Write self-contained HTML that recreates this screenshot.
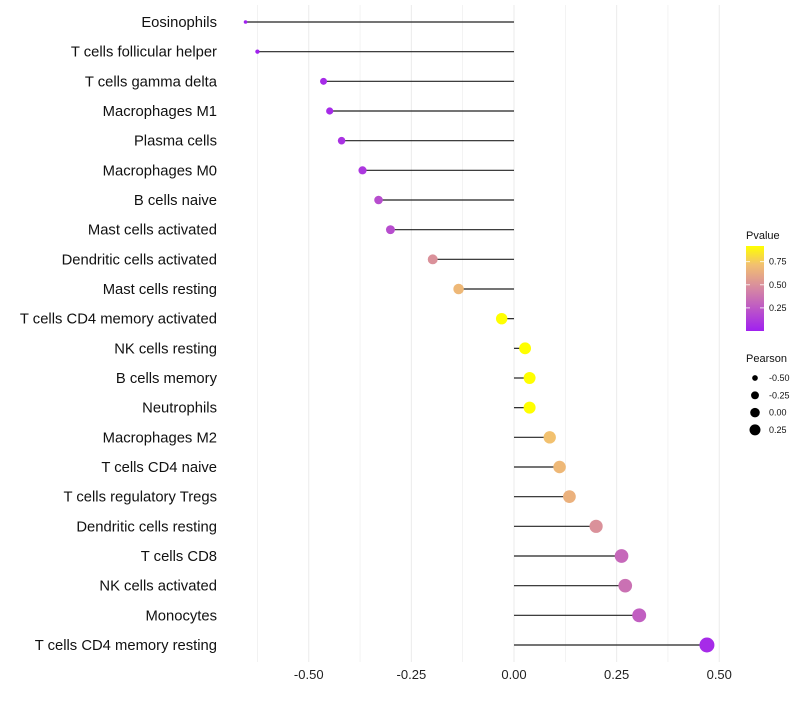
<!DOCTYPE html>
<html><head><meta charset="utf-8"><style>
body{margin:0;background:#fff;font-family:"Liberation Sans",sans-serif}
</style></head><body>
<svg id="chart" width="800" height="700" xmlns="http://www.w3.org/2000/svg" font-family="Liberation Sans, sans-serif"></svg>
<script>
const categories=["Eosinophils","T cells follicular helper","T cells gamma delta","Macrophages M1","Plasma cells","Macrophages M0","B cells naive","Mast cells activated","Dendritic cells activated","Mast cells resting","T cells CD4 memory activated","NK cells resting","B cells memory","Neutrophils","Macrophages M2","T cells CD4 naive","T cells regulatory  Tregs ","Dendritic cells resting","T cells CD8","NK cells activated","Monocytes","T cells CD4 memory resting"];
const pearson=[-0.654,-0.625,-0.464,-0.449,-0.420,-0.369,-0.330,-0.301,-0.198,-0.135,-0.030,0.027,0.038,0.038,0.087,0.111,0.135,0.200,0.262,0.271,0.305,0.470];
const pvalue=[0.002,0.01,0.05,0.05,0.08,0.1,0.2,0.2,0.5,0.68,0.92,0.92,0.92,0.92,0.72,0.68,0.65,0.5,0.32,0.36,0.28,0.05];
const xTicks=[-0.5,-0.25,0,0.25,0.5];
const xTickLabels=["-0.50","-0.25","0.00","0.25","0.50"];
const cbTicks=[0.25,0.5,0.75];
const sizeLegend=[-0.5,-0.25,0,0.25];
const svg=document.getElementById('chart');
const NS='http://www.w3.org/2000/svg';
function mk(t,a,p){const e=document.createElementNS(NS,t);for(const k in a)e.setAttribute(k,a[k]);(p||svg).appendChild(e);return e;}
const x=v=>514+v*410.5;
const y=i=>22+i*(645-22)/(categories.length-1);
const pMin=0,pMax=0.92;
const stops=[[0,[160,32,240]],[0.5,[214,136,162]],[0.78,[242,192,112]],[1,[255,255,0]]];
function col(p){const t=Math.max(0,Math.min(1,(p-pMin)/(pMax-pMin)));let k=0;while(k<stops.length-2&&t>stops[k+1][0])k++;
const [t0,a]=stops[k],[t1,b]=stops[k+1];const f=(t-t0)/(t1-t0);return `rgb(${a.map((c,i)=>Math.round(c+(b[i]-c)*f)).join(',')})`;}
const rMin=1.8,rMax=7.5,vMin=-0.654,vMax=0.47;
const rad=v=>Math.sqrt(rMin*rMin+(v-vMin)/(vMax-vMin)*(rMax*rMax-rMin*rMin));
for(let g=-0.625;g<=0.5001;g+=0.125){const l=mk('line',{x1:x(g),x2:x(g),y1:5,y2:662,stroke:'#ebebeb','stroke-width':Math.abs(g*4-Math.round(g*4))<1e-6?1:0.6});
}
xTicks.forEach((v,i)=>{const t=mk('text',{x:x(v),y:679,'text-anchor':'middle','font-size':13,fill:'#222'});t.textContent=xTickLabels[i];
});
categories.forEach((c,i)=>{
const t=mk('text',{x:217,y:y(i)+5,'text-anchor':'end','font-size':14.8,fill:'#111'});t.textContent=c;

const l=mk('line',{x1:x(0),x2:x(pearson[i]),y1:y(i),y2:y(i),stroke:'#222','stroke-width':1.2});

const d=mk('circle',{cx:x(pearson[i]),cy:y(i),r:rad(pearson[i]),fill:col(pvalue[i])});

});
const lt=mk('text',{x:746,y:239,'font-size':11,fill:'#111'});lt.textContent='Pvalue';

const defs=mk('defs',{});const gr=mk('linearGradient',{id:'cg',x1:0,y1:1,x2:0,y2:0},defs);
stops.forEach(s=>mk('stop',{offset:s[0],'stop-color':`rgb(${s[1].join(',')})`},gr));
const cbTop=246,cbBot=331;const cy=p=>cbBot-(p-pMin)/(pMax-pMin)*(cbBot-cbTop);
const cb=mk('rect',{x:746,y:cbTop,width:18,height:cbBot-cbTop,fill:'url(#cg)'});

cbTicks.forEach(v=>{mk('line',{x1:746,x2:750,y1:cy(v),y2:cy(v),stroke:'#fff','stroke-width':0.8});mk('line',{x1:760,x2:764,y1:cy(v),y2:cy(v),stroke:'#fff','stroke-width':0.8});
const t=mk('text',{x:769,y:cy(v)+3,'font-size':9,fill:'#111'});t.textContent=v.toFixed(2);
});
const st=mk('text',{x:746,y:362,'font-size':11,fill:'#111'});st.textContent='Pearson';

sizeLegend.forEach((v,i)=>{const yy=378+i*17.3;const c=mk('circle',{cx:755,cy:yy,r:rad(v)*0.75+0.4,fill:'#000'});

const t=mk('text',{x:769,y:yy+3,'font-size':9,fill:'#111'});t.textContent=v.toFixed(2);
});
</script>
</body></html>
